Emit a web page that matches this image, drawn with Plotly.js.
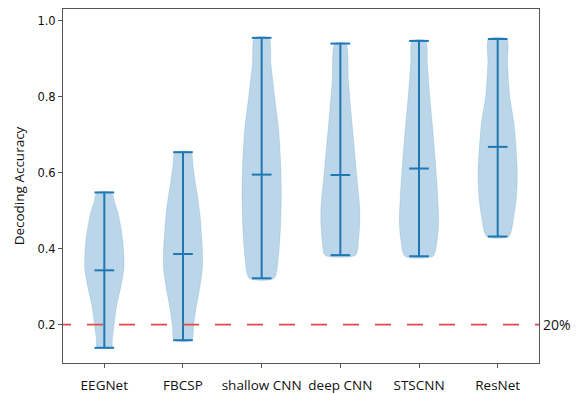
<!DOCTYPE html>
<html>
<head>
<meta charset="utf-8">
<script src="https://cdn.plot.ly/plotly-3.0.1.min.js"></script>
<style>html,body{margin:0;padding:0;background:#fff;}#chart{width:580px;height:394px;}</style>
</head>
<body>
<div id="chart"></div>
<script>
// ---- data ----
const categories = ['EEGNet', 'FBCSP', 'shallow CNN', 'deep CNN', 'STSCNN', 'ResNet'];
const minVals    = [0.139, 0.159, 0.322, 0.383, 0.380, 0.432];
const maxVals    = [0.548, 0.654, 0.955, 0.940, 0.947, 0.952];
const medianVals = [0.343, 0.386, 0.595, 0.594, 0.611, 0.668];

// violin outline: accuracy levels and half-widths (density shape, x units)
const profileY = [
  [0.139, 0.161, 0.204, 0.248, 0.301, 0.349, 0.406, 0.450, 0.494, 0.520, 0.548],
  [0.159, 0.20, 0.25, 0.30, 0.35, 0.39, 0.44, 0.49, 0.54, 0.58, 0.62, 0.654],
  [0.322, 0.380, 0.450, 0.538, 0.625, 0.713, 0.801, 0.889, 0.955],
  [0.383, 0.424, 0.468, 0.511, 0.582, 0.669, 0.757, 0.845, 0.940],
  [0.380, 0.424, 0.468, 0.538, 0.625, 0.713, 0.801, 0.889, 0.947],
  [0.432, 0.485, 0.538, 0.599, 0.669, 0.731, 0.801, 0.889, 0.952]
];
const profileW = [
  [0.093, 0.102, 0.127, 0.156, 0.212, 0.250, 0.242, 0.216, 0.174, 0.134, 0.093],
  [0.111, 0.136, 0.172, 0.216, 0.248, 0.249, 0.235, 0.216, 0.184, 0.153, 0.127, 0.102],
  [0.159, 0.214, 0.238, 0.250, 0.242, 0.216, 0.165, 0.117, 0.092],
  [0.195, 0.232, 0.248, 0.246, 0.214, 0.176, 0.137, 0.102, 0.070],
  [0.178, 0.232, 0.250, 0.238, 0.210, 0.176, 0.137, 0.106, 0.087],
  [0.140, 0.206, 0.239, 0.250, 0.233, 0.207, 0.153, 0.125, 0.117]
];
const chanceLevel = 0.2;
const chanceLabel = '20%';
const yTicks = [0.2, 0.4, 0.6, 0.8, 1.0];

// ---- build traces ----
const blue = '#1f77b4';
const capHalf = 0.125;
const traces = [];

categories.forEach((c, i) => {
  const pos = i + 1;
  const ys = profileY[i], ws = profileW[i];
  const px = [], py = [];
  for (let k = 0; k < ys.length; k++) { px.push(pos + ws[k]); py.push(ys[k]); }
  for (let k = ys.length - 1; k >= 0; k--) { px.push(pos - ws[k]); py.push(ys[k]); }
  px.push(px[0]); py.push(py[0]);
  traces.push({
    type: 'scatter', mode: 'lines', x: px, y: py,
    fill: 'toself', fillcolor: 'rgba(31,119,180,0.3)',
    line: {color: 'rgba(31,119,180,0.3)', width: 0.5, shape: 'spline', smoothing: 0.7},
    hoverinfo: 'skip', showlegend: false
  });
});

const lx = [], ly = [];
categories.forEach((c, i) => {
  const pos = i + 1;
  lx.push(pos, pos, null); ly.push(minVals[i], maxVals[i], null);
  [minVals[i], maxVals[i], medianVals[i]].forEach(v => {
    lx.push(pos - capHalf, pos + capHalf, null); ly.push(v, v, null);
  });
});
traces.push({
  type: 'scatter', mode: 'lines', x: lx, y: ly,
  line: {color: blue, width: 2}, hoverinfo: 'skip', showlegend: false
});

traces.push({
  type: 'scatter', mode: 'lines', x: [0.373, 6.7], y: [chanceLevel, chanceLevel],
  line: {color: 'rgb(226,74,74)', width: 1.8, dash: '16px,16px'},
  hoverinfo: 'skip', showlegend: false
});

const layout = {
  width: 580, height: 394,
  margin: {l: 63, r: 41, t: 9, b: 31, pad: 0},
  paper_bgcolor: '#fff', plot_bgcolor: '#fff',
  showlegend: false,
  xaxis: {
    range: [0.475, 6.525], tickvals: categories.map((c, i) => i + 1), ticktext: categories,
    showgrid: false, zeroline: false, showline: true, mirror: true,
    linecolor: '#555', linewidth: 1, ticks: 'outside', ticklen: 4, tickcolor: '#555',
    ticklabelstandoff: 6,
    tickfont: {family: 'Open Sans, Noto Sans, sans-serif', size: 13.5, color: '#111'}
  },
  yaxis: {
    range: [0.099, 1.031], tickvals: yTicks, tickformat: '.1f',
    showgrid: false, zeroline: false, showline: true, mirror: true,
    linecolor: '#555', linewidth: 1, ticks: 'outside', ticklen: 4, tickcolor: '#555',
    tickfont: {family: 'DejaVu Sans, sans-serif', size: 11.5, color: '#111'},
    title: {text: 'Decoding Accuracy', standoff: 9,
            font: {family: 'Open Sans, Noto Sans, sans-serif', size: 13.5, color: '#111'}}
  },
  annotations: [{
    xref: 'paper', yref: 'y', x: 1, y: chanceLevel, xanchor: 'left', yanchor: 'middle',
    xshift: 2, text: chanceLabel, showarrow: false,
    font: {family: 'Open Sans, Noto Sans, sans-serif', size: 14, color: '#111'}
  }]
};

Plotly.newPlot('chart', traces, layout, {displayModeBar: false, staticPlot: true});
</script>
</body>
</html>
